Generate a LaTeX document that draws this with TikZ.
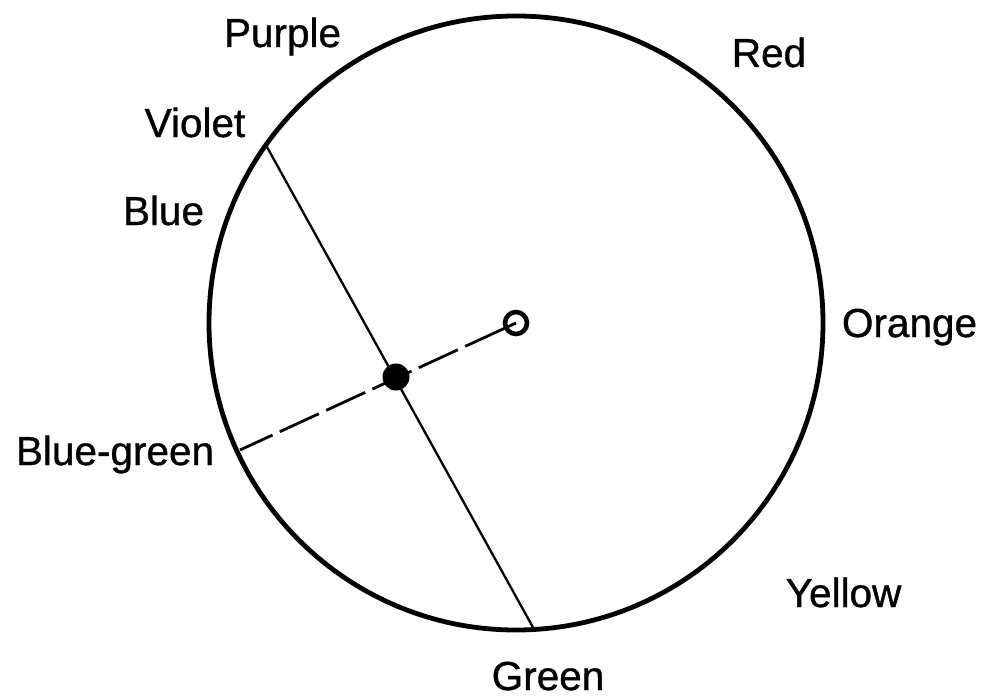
\documentclass[tikz,border=0pt]{standalone}
\usepackage{fontspec}
\setmainfont{Liberation Sans}
\newfontfamily\lblfont[FakeBold=0.9]{Liberation Sans}
\begin{document}
\begin{tikzpicture}[x=1pt,y=-1pt,
  lbl/.style={inner sep=0pt, anchor=base, font=\lblfont\fontsize{40.5}{48}\selectfont},
  wheelline/.style={line width=4.8pt},
  chordline/.style={line width=2.3pt},
  dashline/.style={line width=2.8pt, dash pattern=on 56pt off 8pt on 43pt off 8pt on 43pt off 8pt on 43pt off 8pt on 43pt off 8pt on 43pt off 8pt},
  ringmark/.style={circle, draw, line width=4.6pt, inner sep=0pt, minimum size=22pt},
  dotmark/.style={circle, fill=black, inner sep=0pt, minimum size=27pt}]
\useasboundingbox (0,0) rectangle (984,698);
% colour wheel
\coordinate (O) at (516,323);
\draw[wheelline] (O) circle (307);
% points on the wheel
\coordinate (violetpt) at (267,147);
\coordinate (greenpt) at (535,631);
\coordinate (bgpt) at (240,450);
% chord
\draw[chordline] (violetpt) -- (greenpt);
% dashed radius
\draw[dashline] (O) -- (bgpt);
\node[ringmark] (center) at (O) {};
\node[dotmark] (mix) at (396,377) {};
% labels
\node[lbl] (purple) at (282.5,47) {Purple};
\node[lbl] (red) at (769,67) {Red};
\node[lbl] (violet) at (195,137) {Violet};
\node[lbl] (blue) at (163.5,225) {Blue};
\node[lbl] (orange) at (909.5,337) {Orange};
\node[lbl] (bluegreen) at (115,465) {Blue-green};
\node[lbl] (yellow) at (843.5,607) {Yellow};
\node[lbl] (green) at (548,690) {Green};
\end{tikzpicture}
\end{document}
